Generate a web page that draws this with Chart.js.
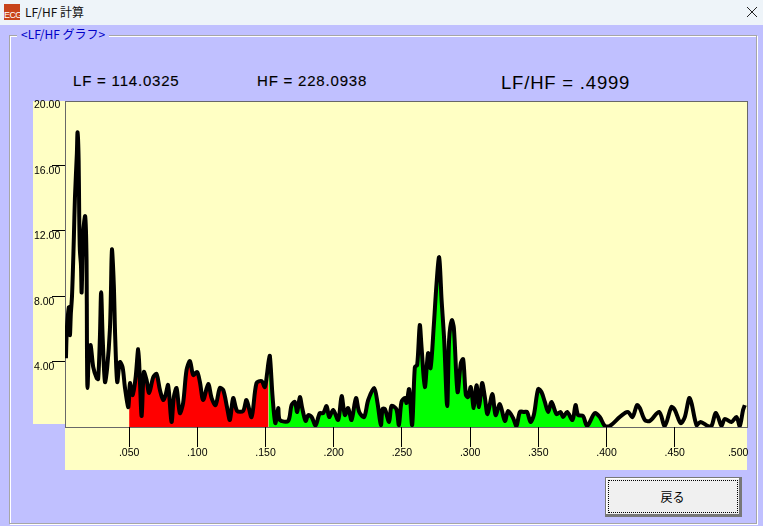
<!DOCTYPE html>
<html>
<head>
<meta charset="utf-8">
<title>LF/HF 計算</title>
<script src="https://cdn.jsdelivr.net/npm/chart.js@4/dist/chart.umd.min.js"></script>
<style>
  html, body { margin: 0; padding: 0; }
  body { width: 763px; height: 526px; overflow: hidden; background: #c0c0ff; position: relative; font-family: "Liberation Sans", sans-serif; }
  .abs { position: absolute; white-space: nowrap; }
  #titlebar { left: 0; top: 0; width: 763px; height: 25px; background: #eef4f9; }
  #icon { left: 4px; top: 4px; width: 16px; height: 16px; background: #c8441a; color: #fff; font: 9px/10px "Liberation Sans", sans-serif; letter-spacing: -.6px; text-align: center; padding-top: 6px; box-sizing: border-box; overflow: hidden; }
  #title { left: 25px; top: 4px; font: 12px/16px "Noto Sans CJK JP", sans-serif; color: #111; }
  #close { left: 747px; top: 7px; }
  #group { left: 9px; top: 35px; width: 746px; height: 487px; border: 1px solid #a6a6a6; box-shadow: inset 1px 1px 0 #fff, 1px 1px 0 #fff; }
  #grouptitle { left: 17px; top: 26px; padding: 0 4px; background: #c0c0ff; color: #0000c8; font: 12px/16px "Noto Sans CJK JP", sans-serif; }
  .val { color: #000; font-size: 15px; line-height: 18px; letter-spacing: .8px; -webkit-text-stroke: 0.15px #000; }
  #lf { left: 73px; top: 72px; }
  #hf { left: 257px; top: 72px; }
  #ratio { left: 501px; top: 72px; font-size: 18.5px; line-height: 22px; -webkit-text-stroke: 0; }
  #plotbg { left: 65px; top: 101px; width: 682px; height: 369px; background: #ffffc4; }
  #ystrip { left: 33px; top: 101px; width: 32px; height: 323px; background: #ffffc4; }
  #frame { left: 65px; top: 101px; width: 681px; height: 325px; border: 1px solid #686868; }
  #chart { position: absolute; left: 0; top: 0; }
  #back { left: 605px; top: 477px; width: 137px; height: 40px; box-sizing: border-box; background: #f0f0f0; border: 1px solid #777; border-right: 3px solid #777; border-bottom: 3px solid #777; box-shadow: inset 1px 1px 0 #fff; font: 12px/38px "Noto Sans CJK JP", sans-serif; color: #000; text-align: center; }
  #back span { position: absolute; left: 2px; top: 2px; right: 1px; bottom: 1px; border: 1px dotted #000; }
</style>
</head>
<body>
<div class="abs" id="titlebar"></div>
<div class="abs" id="icon">ECG</div>
<div class="abs" id="title">LF/HF 計算</div>
<svg class="abs" id="close" width="10" height="10"><path d="M0 0L10 10M10 0L0 10" stroke="#222" stroke-width="1"/></svg>
<div class="abs" id="group"></div>
<div class="abs" id="grouptitle">&lt;LF/HF グラフ&gt;</div>
<div class="abs val" id="lf">LF = 114.0325</div>
<div class="abs val" id="hf">HF = 228.0938</div>
<div class="abs val" id="ratio">LF/HF = .4999</div>
<div class="abs" id="ystrip"></div>
<div class="abs" id="plotbg"></div>
<div class="abs" id="frame"></div>
<canvas id="chart" width="763" height="526"></canvas>
<div class="abs" id="back"><span></span>戻る</div>
<script>
// frequency (Hz) and power
const freqs = [
  .0037,.0044,.0059,.0066,.0073,.0081,.0088,.0095,.0103,.0117,.0122,.0130,.0134,.0139,.0147,.0152,.0163,.0178,.0188,.0191,
  .0195,.0207,.0218,.0237,.0262,.0273,.0286,.0295,.0306,.0323,.0339,.0359,.0367,.0374,.0388,.0398,.0413,.0432,.0452,.0469,
  .0493,.0500,.0506,.0526,.0548,.0567,.0579,.0592,.0608,.0628,.0647,.0677,.0701,.0726,.0750,.0767,.0786,.0811,.0828,.0848,
  .0872,.0896,.0921,.0946,.0970,.0999,.1019,.1043,.1080,.1105,.1134,.1165,.1190,.1219,.1239,.1263,.1292,.1336,.1361,.1398,
  .1434,.1471,.1495,.1512,.1522,.1532,.1552,.1572,.1593,.1605,.1666,.1691,.1715,.1732,.1752,.1769,.1794,.1813,.1838,.1867,
  .1898,.1923,.1948,.1967,.1996,.2033,.2058,.2082,.2106,.2131,.2163,.2187,.2223,.2253,.2297,.2321,.2346,.2358,.2375,.2406,
  .2424,.2459,.2478,.2497,.2522,.2534,.2553,.2575,.2595,.2612,.2631,.2644,.2668,.2692,.2710,.2734,.2754,.2773,.2791,.2810,
  .2832,.2846,.2866,.2881,.2908,.2932,.2949,.2969,.2985,.3005,.3027,.3047,.3066,.3088,.3108,.3128,.3163,.3187,.3218,.3255,
  .3279,.3315,.3340,.3365,.3396,.3418,.3443,.3467,.3499,.3523,.3548,.3572,.3597,.3634,.3663,.3682,.3711,.3751,.3773,.3792,
  .3828,.3858,.3914,.3951,.3988,.4024,.4097,.4134,.4158,.4191,.4224,.4244,.4281,.4317,.4386,.4427,.4476,.4501,.4543,.4574,
  .4606,.4623,.4660,.4689,.4745,.4770,.4799,.4818,.4843,.4867,.4916,.4953,.4977,.5001,.5014
];
const power = [
  4.21,6.05,7.33,5.62,6.96,7.94,9.59,11.60,14.05,16.73,18.02,16.31,13.07,10.81,9.89,8.24,11.85,12.89,10.20,4.89,
  2.38,4.89,5.01,3.66,2.99,2.93,5.50,8.24,5.50,2.75,3.60,5.92,8.37,10.87,8.67,5.50,2.75,3.97,3.66,2.44,
  1.22,1.77,2.69,1.95,3.05,4.76,2.87,0.67,3.36,2.87,2.08,3.05,3.24,2.26,1.65,1.95,2.56,0.31,1.83,2.38,
  0.85,1.47,3.48,4.03,3.18,3.36,2.75,1.65,2.63,1.77,1.34,2.38,2.26,1.16,0.43,1.77,0.98,0.98,1.65,0.61,
  2.69,2.81,2.44,3.30,3.97,4.34,1.83,0.24,1.16,0.43,0.37,1.34,1.53,0.92,1.83,1.16,0.37,0.73,0.61,0.10,
  0.85,0.85,1.28,0.61,1.04,0.43,1.89,0.73,1.16,0.43,1.77,0.92,0.61,1.65,2.38,1.47,0.12,1.10,1.10,0.31,
  1.28,1.10,0.12,1.53,1.77,1.47,2.32,0.12,3.66,3.79,6.23,4.89,2.44,4.52,3.60,6.23,8.79,10.38,7.76,5.31,
  1.28,5.31,6.53,6.05,2.14,3.91,4.15,1.95,1.83,2.44,1.16,2.56,1.22,2.69,1.83,0.79,2.02,0.73,1.40,0.37,
  0.98,0.55,0.06,0.92,0.92,0.92,0.31,0.73,2.32,2.14,1.53,0.92,1.53,0.79,0.92,0.61,0.92,0.43,1.34,0.73,
  0.67,0.06,0.85,0.61,0.06,0.06,0.61,0.85,0.92,0.61,1.34,1.16,0.43,0.37,0.92,0.06,1.22,1.04,0.24,0.61,
  1.77,1.47,0.12,0.31,0.06,0.06,0.85,0.61,0.06,0.49,0.31,0.61,0.06,1.04,1.34
];
const yTicks = [4, 8, 12, 16, 20];
const yTickLabels = ['4.00', '8.00', '12.00', '16.00', '20.00'];
const xTicks = [.05, .1, .15, .2, .25, .3, .35, .4, .45, .4965];
const xTickLabels = ['.050', '.100', '.150', '.200', '.250', '.300', '.350', '.400', '.450', '.500'];
const lfBand = [.05, .1522];
const hfBand = [.1522, .3988];

const points = freqs.map((f, i) => ({ x: f, y: power[i] }));
const inBand = band => points.filter(p => p.x >= band[0] && p.x <= band[1]);

const tickFont = { family: '"Liberation Sans", sans-serif', size: 10.5 };

new Chart(document.getElementById('chart').getContext('2d'), {
  type: 'line',
  data: {
    datasets: [
      { data: points, borderColor: '#000', borderWidth: 4, borderJoinStyle: 'round', tension: .3, pointRadius: 0, fill: false, order: 0 },
      { data: inBand(lfBand), backgroundColor: '#ff0000', borderWidth: 0, tension: .3, pointRadius: 0, fill: 'origin', order: 1 },
      { data: inBand(hfBand), backgroundColor: '#00ff00', borderWidth: 0, tension: .3, pointRadius: 0, fill: 'origin', order: 1 }
    ]
  },
  options: {
    responsive: false,
    animation: false,
    layout: { padding: { left: 34, top: 100, right: 16, bottom: 56 } },
    plugins: { legend: { display: false }, tooltip: { enabled: false } },
    scales: {
      x: {
        type: 'linear',
        min: .003,
        max: .503,
        afterBuildTicks: s => { s.ticks = xTicks.map(v => ({ value: v })); },
        afterFit: s => { s.height = 43; },
        grid: {
          drawOnChartArea: false,
          tickLength: 20,
          color: c => (c.index === xTicks.length - 1 ? 'transparent' : '#000')
        },
        border: { display: false },
        ticks: {
          autoSkip: false,
          maxRotation: 0,
          padding: 0,
          color: '#000',
          font: tickFont,
          callback: (v, i) => xTickLabels[i]
        }
      },
      y: {
        min: 0,
        max: 20,
        afterBuildTicks: s => { s.ticks = yTicks.map(v => ({ value: v })); },
        afterFit: s => { s.width = 31; },
        grid: {
          drawOnChartArea: false,
          tickLength: 13,
          color: c => (c.tick && c.tick.value === 20 ? 'transparent' : '#000')
        },
        border: { display: false },
        ticks: {
          autoSkip: false,
          crossAlign: 'far',
          labelOffset: 5.5,
          padding: 0,
          color: '#000',
          font: tickFont,
          callback: (v, i) => yTickLabels[i]
        }
      }
    }
  }
});
</script>
</body>
</html>
